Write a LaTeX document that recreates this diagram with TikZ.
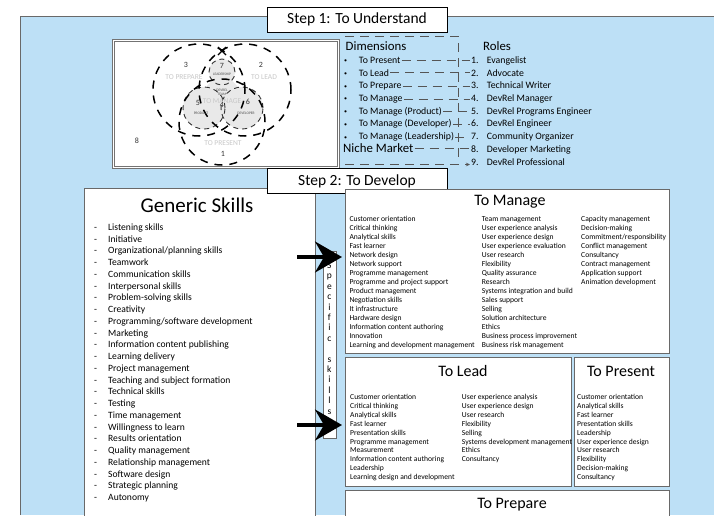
\documentclass[tikz,border=0pt]{standalone}
\usepackage{fontspec}
\setmainfont{Carlito}
\usetikzlibrary{arrows.meta}
\definecolor{paleBlue}{RGB}{189,224,246}
\definecolor{frameGray}{RGB}{105,105,105}
\definecolor{linkGray}{RGB}{85,85,85}
\definecolor{ghostGray}{RGB}{200,200,200}
\definecolor{lobeGray}{RGB}{233,233,233}
\newcommand{\skillcol}[1]{\begin{tabular}[t]{@{}l@{}}#1\end{tabular}}
\newcommand{\dimbullet}{\makebox[14.7pt][l]{\raisebox{0.6pt}{\fontsize{6}{6}\selectfont\textbullet}}}

\tikzset{
  panel/.style={draw=frameGray, fill=white, line width=0.8pt, anchor=north west, inner sep=0pt},
  steplabel/.style={draw=black, fill=white, line width=0.7pt, minimum width=180pt, minimum height=25pt,
    inner sep=0pt, font=\fontsize{15.5}{18}\selectfont},
  boxtitle/.style={anchor=base, inner sep=0pt, font=\fontsize{16}{19}\selectfont},
  smalllist/.style={anchor=base west, inner sep=0pt},
  venndash/.style={line width=1.5pt, dash pattern=on 8pt off 7pt},
  lobedash/.style={line width=0.9pt, dash pattern=on 5pt off 4pt, draw=black!80},
  ghost/.style={text=ghostGray, font=\fontsize{7.5}{9}\selectfont, inner sep=0pt},
  vnum/.style={text=black!80, font=\fontsize{8}{9}\selectfont, inner sep=0pt},
  tiny/.style={text=black!70, font=\fontsize{3.6}{4}\selectfont, inner sep=0pt, align=center},
  dimrow/.style={anchor=base west, inner sep=1pt, font=\fontsize{9.8}{12}\selectfont},
  linkdash/.style={draw=linkGray, line width=0.7pt, dash pattern=on 9pt off 6pt},
  bigarrow/.style={line width=3.3pt, -{Stealth[length=27pt,width=31pt,inset=9pt]}}
}

\begin{document}
\begin{tikzpicture}[x=1pt, y=-1pt]
\useasboundingbox (0,0) rectangle (714,515);

% backdrop
\fill[paleBlue] (20,16) rectangle (714,515);
\draw[frameGray, line width=0.8pt] (20,515) -- (20,16) -- (714,16);

%% Step 1
\node[panel, draw=black!55, double=white, double distance=0.8pt, minimum width=225pt, minimum height=127pt] (venn) at (113,40) {};

% inner lobes
\fill[lobeGray] (222,72) circle (13pt) (204,108) circle (21pt) (242,108) circle (21pt) (222,96) circle (18pt);
\draw[lobedash] (222,72) circle (13pt) (204,108) circle (21pt) (242,108) circle (21pt);
\draw[venndash] (199,90) circle (46pt) (245,90) circle (46pt) (222,122) circle (43pt);
\draw[line width=1.3pt] (218,47) -- (226,55) (226,47) -- (218,55);

\node[ghost] at (184,77) {TO PREPARE};
\node[ghost] at (264,77) {TO LEAD};
\node[ghost] at (222,101) {TO MANAGE};
\node[ghost] at (223,143) {TO PRESENT};
\node[vnum] at (186,65) {3};
\node[vnum] at (261,65) {2};
\node[vnum] at (222,66) {7};
\node[vnum] at (222,105) {4};
\node[vnum] at (198,103) {5};
\node[vnum] at (248,102) {6};
\node[vnum] at (137,141) {8};
\node[vnum] at (223,154) {1};
\node[tiny] at (222,74) {LEADERSHIP};
\node[tiny] at (222,92) {DEVREL\\TEAM};
\node[tiny] at (201,113) {PRODUCT};
\node[tiny] at (246,113) {DEVELOPER};

% dimensions and roles
\node[anchor=base, inner sep=0pt, font=\fontsize{12.8}{15}\selectfont] at (376,50) {Dimensions};
\node[anchor=base, inner sep=0pt, font=\fontsize{12.8}{15}\selectfont] at (497,50) {Roles};

\node[dimrow] (d1) at (343,63.5) {\dimbullet To Present};
\node[dimrow] (d2) at (343,76.2) {\dimbullet To Lead};
\node[dimrow] (d3) at (343,88.9) {\dimbullet To Prepare};
\node[dimrow] (d4) at (343,101.5) {\dimbullet To Manage};
\node[dimrow] (d5) at (343,114.2) {\dimbullet To Manage (Product)};
\node[dimrow] (d6) at (343,126.9) {\dimbullet To Manage (Developer)};
\node[dimrow] (d7) at (343,139.6) {\dimbullet To Manage (Leadership)};
\node[dimrow, font=\fontsize{12.8}{15}\selectfont] (d8) at (342,152.3) {Niche Market};

\node[dimrow] (r1) at (470,63.5) {\makebox[15.7pt][l]{1.}Evangelist};
\node[dimrow] (r2) at (470,76.2) {\makebox[15.7pt][l]{2.}Advocate};
\node[dimrow] (r3) at (470,88.9) {\makebox[15.7pt][l]{3.}Technical Writer};
\node[dimrow] (r4) at (470,101.5) {\makebox[15.7pt][l]{4.}DevRel Manager};
\node[dimrow] (r5) at (470,114.2) {\makebox[15.7pt][l]{5.}DevRel Programs Engineer};
\node[dimrow] (r6) at (470,126.9) {\makebox[15.7pt][l]{6.}DevRel Engineer};
\node[dimrow] (r7) at (470,139.6) {\makebox[15.7pt][l]{7.}Community Organizer};
\node[dimrow] (r8) at (470,152.3) {\makebox[15.7pt][l]{8.}Developer Marketing};
\node[dimrow] (r9) at (470,165) {\makebox[15.7pt][l]{9.}DevRel Professional};

\draw[linkdash] (d1.east) -- (d1.east -| r1.west);
\draw[linkdash] (d2.east) -- (d2.east -| r2.west);
\draw[linkdash] (d3.east) -- (d3.east -| r3.west);
\draw[linkdash] (d4.east) -- (d4.east -| r4.west);
\draw[linkdash] (d5.east) -- (d5.east -| r5.west);
\draw[linkdash] (d6.east) -- (d6.east -| r6.west);
\draw[linkdash] (d7.east) -- (d7.east -| r7.west);
\draw[linkdash] (d8.east) -- (d8.east -| r8.west);

\coordinate (dimtop) at (345,36);
\coordinate (dimbot) at (345,164.5);
\draw[linkdash] (dimtop) -- (458,36) -- (458,158);
\draw[linkdash, -{Stealth[length=4pt,width=3.5pt]}] (dimbot) -- (dimbot -| r9.west);

\node[steplabel] (step1) at (357,19.5) {Step 1: To Understand};

%% Step 2
\node[panel, minimum width=231pt, minimum height=340pt] (generic) at (84,188) {};
\node[anchor=base, inner sep=0pt, font=\fontsize{21}{24}\selectfont] at (197,212) {Generic Skills};
\node[smalllist, font=\fontsize{9.6}{11.74}\selectfont] (glist) at (94,230.5) {%
\begin{tabular}[t]{@{}p{14pt}@{}l@{}}
- & Listening skills\\
- & Initiative\\
- & Organizational/planning skills\\
- & Teamwork\\
- & Communication skills\\
- & Interpersonal skills\\
- & Problem-solving skills\\
- & Creativity\\
- & Programming/software development\\
- & Marketing\\
- & Information content publishing\\
- & Learning delivery\\
- & Project management\\
- & Teaching and subject formation\\
- & Technical skills\\
- & Testing\\
- & Time management\\
- & Willingness to learn\\
- & Results orientation\\
- & Quality management\\
- & Relationship management\\
- & Software design\\
- & Strategic planning\\
- & Autonomy
\end{tabular}};

\node[steplabel] (step2) at (357,181) {Step 2: To Develop};

% To Manage
\node[panel, minimum width=324pt, minimum height=164pt] (manage) at (345,189) {};
\node[boxtitle] at (510,205.5) {To Manage};
\begin{scope}[every node/.style={smalllist, font=\fontsize{7.6}{9.03}\selectfont}]
\node (m1) at (349.3,221) {\skillcol{Customer orientation\\ Critical thinking\\ Analytical skills\\ Fast learner\\
  Network design\\ Network support\\ Programme management\\ Programme and project support\\
  Product management\\ Negotiation skills\\ It infrastructure\\ Hardware design\\
  Information content authoring\\ Innovation\\ Learning and development management}};
\node (m2) at (481.7,221) {\skillcol{Team management\\ User experience analysis\\ User experience design\\
  User experience evaluation\\ User research\\ Flexibility\\ Quality assurance\\ Research\\
  Systems integration and build\\ Sales support\\ Selling\\ Solution architecture\\ Ethics\\
  Business process improvement\\ Business risk management}};
\node (m3) at (581,221) {\skillcol{Capacity management\\ Decision-making\\ Commitment/responsibility\\
  Conflict management\\ Consultancy\\ Contract management\\ Application support\\ Animation development}};
\end{scope}

% To Lead
\node[panel, minimum width=226pt, minimum height=129pt] (lead) at (345,357) {};
\node[boxtitle] at (463,376.5) {To Lead};
\begin{scope}[every node/.style={smalllist, font=\fontsize{7.6}{8.93}\selectfont}]
\node (l1) at (350,399.4) {\skillcol{Customer orientation\\ Critical thinking\\ Analytical skills\\ Fast learner\\
  Presentation skills\\ Programme management\\ Measurement\\ Information content authoring\\
  Leadership\\ Learning design and development}};
\node (l2) at (461.7,399.4) {\skillcol{User experience analysis\\ User experience design\\ User research\\
  Flexibility\\ Selling\\ Systems development management\\ Ethics\\ Consultancy}};
\end{scope}

% To Present
\node[panel, minimum width=95pt, minimum height=129pt] (present) at (574,357) {};
\node[boxtitle] at (621,376.5) {To Present};
\node[smalllist, font=\fontsize{7.6}{8.93}\selectfont] (p1) at (577,399.4) {\skillcol{Customer orientation\\
  Analytical skills\\ Fast learner\\ Presentation skills\\ Leadership\\ User experience design\\
  User research\\ Flexibility\\ Decision-making\\ Consultancy}};

% To Prepare
\node[panel, minimum width=324pt, minimum height=40pt] (prepare) at (345,490) {};
\node[boxtitle] at (512,508.5) {To Prepare};

% specific skills strip
\node[panel, minimum width=13.3pt, minimum height=187pt] (spec) at (322.7,251) {};
\node[anchor=base, inner sep=0pt, font=\fontsize{9.5}{10.4}\selectfont] at (329.4,268.5)
  {\begin{tabular}[t]{@{}c@{}}S\\p\\e\\c\\i\\f\\i\\c\\[10.4pt]s\\k\\i\\l\\l\\s\end{tabular}};

% arrows into the specific boxes
\coordinate (arrA) at (297,257);
\coordinate (arrB) at (297,425);
\draw[bigarrow, shorten >=3pt] (arrA) -- (arrA -| manage.west);
\draw[bigarrow, shorten >=3pt] (arrB) -- (arrB -| lead.west);

\end{tikzpicture}
\end{document}
